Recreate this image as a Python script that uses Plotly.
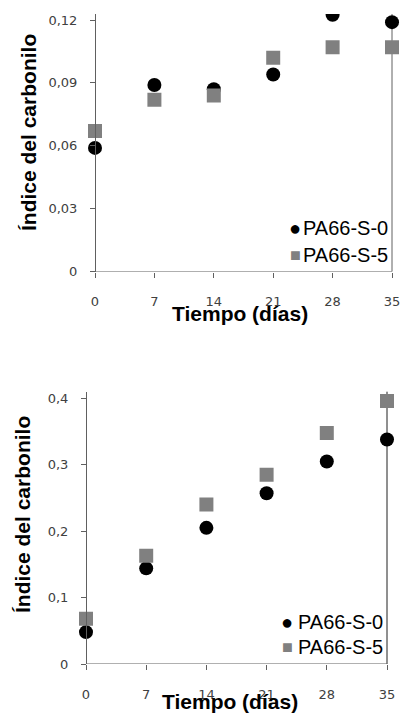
import plotly.graph_objects as go

# ---- data ----
days = [0, 7, 14, 21, 28, 35]
top_s0 = [0.059, 0.089, 0.087, 0.094, 0.1225, 0.119]
top_s5 = [0.067, 0.082, 0.084, 0.102, 0.107, 0.107]
bot_s0 = [0.048, 0.144, 0.205, 0.257, 0.305, 0.338]
bot_s5 = [0.068, 0.163, 0.240, 0.285, 0.348, 0.396]
top_yticks = [0, 0.03, 0.06, 0.09, 0.12]
top_ylabels = ["0", "0,03", "0,06", "0,09", "0,12"]
bot_yticks = [0, 0.1, 0.2, 0.3, 0.4]
bot_ylabels = ["0", "0,1", "0,2", "0,3", "0,4"]
x_labels = ["0", "7", "14", "21", "28", "35"]
series_names = ["PA66-S-0", "PA66-S-5"]
y_title = "Índice del carbonilo"
x_title = "Tiempo (días)"

W, H = 403, 713
BLACK = "#000000"
GRAY = "#808080"
AXIS = "#606060"
TICKFONT = dict(family="DejaVu Sans", size=13, color="#404040")
TITLEFONT = dict(family="Liberation Sans", size=21, color="#000000", weight="bold")
LEGFONT = dict(family="Liberation Sans", size=20, color="#000000")

def px_x(p):
    return p / W

def px_y(p):
    return 1 - p / H

fig = go.Figure()
fig.add_trace(go.Scatter(x=days, y=top_s0, mode="markers", name=series_names[0],
                         marker=dict(symbol="circle", size=14, color=BLACK),
                         xaxis="x", yaxis="y", showlegend=False))
fig.add_trace(go.Scatter(x=days, y=top_s5, mode="markers", name=series_names[1],
                         marker=dict(symbol="square", size=14, color=GRAY),
                         xaxis="x", yaxis="y", showlegend=False))
fig.add_trace(go.Scatter(x=days, y=bot_s0, mode="markers", name=series_names[0],
                         marker=dict(symbol="circle", size=14, color=BLACK),
                         xaxis="x2", yaxis="y2", showlegend=False))
fig.add_trace(go.Scatter(x=days, y=bot_s5, mode="markers", name=series_names[1],
                         marker=dict(symbol="square", size=14, color=GRAY),
                         xaxis="x2", yaxis="y2", showlegend=False))

# pixel geometry (reference pixels)
t_x0, t_x35 = 95, 392
t_top, t_bot = 14, 271.5
b_x0, b_x35 = 86, 387
b_top, b_bot = 391.7, 664

t_ppd = (t_x35 - t_x0) / 35
b_ppd = (b_x35 - b_x0) / 35

xcommon = dict(tickvals=days, ticktext=x_labels, ticks="outside",
               ticklen=5, tickcolor=AXIS, showline=False, showgrid=False,
               zeroline=False, tickfont=TICKFONT, ticklabelstandoff=13,
               automargin=False)
ycommon = dict(ticks="outside", ticklen=5, tickcolor=AXIS, showline=True,
               linecolor=AXIS, linewidth=1, showgrid=False, zeroline=False,
               tickfont=TICKFONT, ticklabelstandoff=10, anchor="free",
               automargin=False)

t_left = px_x(t_x0 - t_ppd)
t_right = min(1.0, px_x(t_x35 + t_ppd))
t_range = [-1, -1 + (t_right - t_left) * W / t_ppd]

fig.update_layout(
    width=W, height=H, margin=dict(l=0, r=0, t=0, b=0, autoexpand=False),
    paper_bgcolor="white", plot_bgcolor="white",
    xaxis=dict(domain=[t_left, t_right], range=t_range, anchor="y", **xcommon),
    yaxis=dict(domain=[px_y(t_bot), px_y(t_top)], range=[0, 0.1229],
               tickvals=top_yticks, ticktext=top_ylabels, position=px_x(t_x0), **ycommon),
    xaxis2=dict(domain=[px_x(b_x0 - b_ppd), px_x(b_x35 + b_ppd)], range=[-1, 36],
                anchor="y2", **xcommon),
    yaxis2=dict(domain=[px_y(b_bot), px_y(b_top)], range=[0, 0.41],
                tickvals=bot_yticks, ticktext=bot_ylabels, position=px_x(b_x0), **ycommon),
    showlegend=False,
)

shapes = [
    dict(type="line", xref="x", yref="y", x0=0, x1=35, y0=0, y1=0,
         line=dict(color=AXIS, width=1)),
    dict(type="line", xref="x", yref="y domain", x0=35, x1=35, y0=0, y1=1,
         line=dict(color=AXIS, width=1), layer="below"),
    dict(type="line", xref="x2", yref="y2", x0=0, x1=35, y0=0, y1=0,
         line=dict(color=AXIS, width=1)),
    dict(type="line", xref="x2", yref="y2 domain", x0=35, x1=35, y0=0, y1=1,
         line=dict(color="#202020", width=1), layer="below"),
]
fig.update_layout(shapes=shapes)

ann = []
# axis titles
ann.append(dict(text=y_title, x=px_x(28), y=px_y(133), xref="paper", yref="paper",
                textangle=-90, showarrow=False, font=TITLEFONT, xanchor="center", yanchor="middle"))
ann.append(dict(text=x_title, x=px_x(240), y=px_y(313), xref="paper", yref="paper",
                showarrow=False, font=TITLEFONT, xanchor="center", yanchor="middle"))
ann.append(dict(text=y_title, x=px_x(22), y=px_y(515), xref="paper", yref="paper",
                textangle=-90, showarrow=False, font=TITLEFONT, xanchor="center", yanchor="middle"))
ann.append(dict(text=x_title, x=px_x(230), y=px_y(701), xref="paper", yref="paper",
                showarrow=False, font=TITLEFONT, xanchor="center", yanchor="middle"))

# legends (glyph + label)
def legend(mx, y1, y2, tx):
    out = []
    for glyph, col, yy, name, gsize in [("●", BLACK, y1, series_names[0], 20),
                                         ("■", GRAY, y2, series_names[1], 18)]:
        out.append(dict(text=glyph, x=px_x(mx), y=px_y(yy), xref="paper", yref="paper",
                        showarrow=False, xanchor="center", yanchor="middle",
                        font=dict(family="Liberation Sans", size=gsize, color=col)))
        out.append(dict(text=name, x=px_x(tx), y=px_y(yy), xref="paper", yref="paper",
                        showarrow=False, xanchor="left", yanchor="middle", font=LEGFONT))
    return out

ann += legend(295, 228, 255, 301)
ann += legend(287, 622, 647, 296)
fig.update_layout(annotations=ann)

fig.write_html("out.html", config={"displayModeBar": False},
               post_script="document.body.style.margin='0';")
